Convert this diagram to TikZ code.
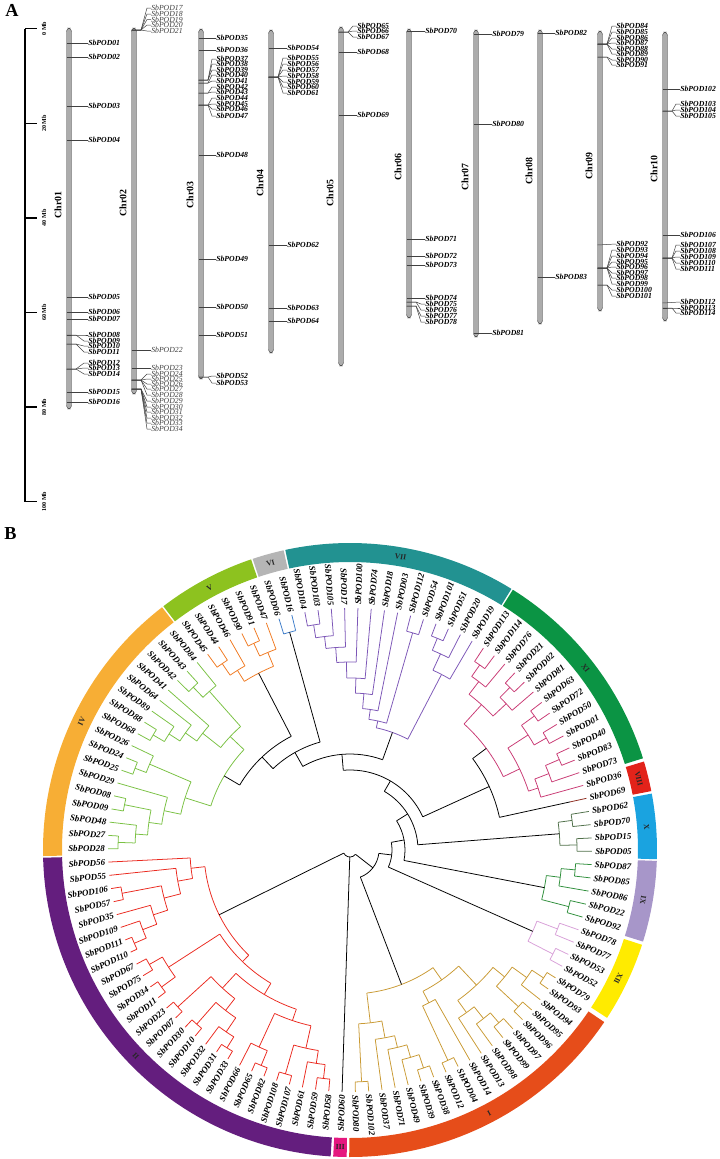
\documentclass[tikz,border=0pt]{standalone}
\usepackage{fontspec}
\setmainfont{Liberation Serif}

% branch and ring colours
\definecolor{ivring}{HTML}{F7AE35}
\definecolor{ivbr}{HTML}{7AC143}
\definecolor{vring}{HTML}{8DC21F}
\definecolor{vbr}{HTML}{F07A22}
\definecolor{viring}{HTML}{B5B5B5}
\definecolor{vibr}{HTML}{3D7CC9}
\definecolor{viiring}{HTML}{229291}
\definecolor{viibr}{HTML}{7D57B7}
\definecolor{xiring}{HTML}{0B9444}
\definecolor{xibr}{HTML}{C93A74}
\definecolor{viiiring}{HTML}{E2231A}
\definecolor{viiibr}{HTML}{8C2B1F}
\definecolor{xring}{HTML}{1AA3E0}
\definecolor{xbr}{HTML}{50704A}
\definecolor{ixring}{HTML}{A796C9}
\definecolor{ixbr}{HTML}{2F8F3C}
\definecolor{xiiring}{HTML}{FFEB00}
\definecolor{xiibr}{HTML}{D8A0D8}
\definecolor{iring}{HTML}{E64D1A}
\definecolor{ibr}{HTML}{C99A34}
\definecolor{iiiring}{HTML}{E5177F}
\definecolor{iiring}{HTML}{641E7E}
\definecolor{iibr}{HTML}{EA2A20}

% gene marks on the chromosome map
\newcommand{\gone}[6]{\node[#1] (g#6) at (#4,#5) {SbPOD#6};
  \draw[gline] (#2-2.5,#3) -- (g#6.west);}
\newcommand{\gfan}[6]{\node[#1] (g#6) at (#4,#5) {SbPOD#6};
  \draw[gline] (#2-2.5,#3) -- (#2+7,#3) -- ([xshift=-0.1cm]g#6.west) -- (g#6.west);}

% circular tree: angle of a leaf slot, radial branch, arc, node
\newcommand{\tang}[1]{((#1)*3.15789-0.3)}
\newcommand{\tbr}[4]{\draw[br,#1] ({\tang{#2}}:#3) -- ({\tang{#2}}:#4);}
\newcommand{\tarc}[4]{\draw[br,#1] ({\tang{#2}}:#4) arc[start angle={\tang{#2}}, end angle={\tang{#3}}, radius=#4];}
\newcommand{\tnd}[6]{\tarc{#1}{#2}{#4}{#6}\tbr{#1}{#2}{#6}{#3}\tbr{#1}{#4}{#6}{#5}}
\newcommand{\tring}[5]{%
  \fill[#3] ({\tang{#1}}:288) arc[start angle={\tang{#1}}, end angle={\tang{#2}}, radius=288]
    -- ({\tang{#2}}:307) arc[start angle={\tang{#2}}, end angle={\tang{#1}}, radius=307] -- cycle;
  \pgfmathsetmacro\tmid{\tang{#1}/2+\tang{#2}/2}
  \pgfmathsetmacro\trot{\tmid-90}
  \node[rlab, rotate=\trot] (#5) at (\tmid:297.5) {#4};}

\tikzset{
  glab/.style={font=\fontsize{5.5}{6}\selectfont\bfseries\itshape, anchor=west, inner sep=0pt},
  glabn/.style={font=\fontsize{5.5}{6}\selectfont\itshape, anchor=west, inner sep=0pt, text=black!75},
  gline/.style={draw=black!75, line width=0.35pt},
  chrom/.style={fill=gray!65, draw=gray!55!black, line width=0.3pt, rounded corners=2.4},
  chrlab/.style={font=\fontsize{7}{8}\selectfont\bfseries, rotate=90, inner sep=0pt},
  mblab/.style={font=\fontsize{4.3}{5}\selectfont\bfseries, rotate=90, inner sep=0pt},
  tlab/.style={font=\fontsize{6.3}{7}\selectfont\bfseries\itshape, inner sep=0pt},
  rlab/.style={font=\fontsize{5.5}{6}\selectfont\bfseries, inner sep=0pt, text=black!85},
  br/.style={line width=0.55pt},
  panel/.style={font=\fontsize{13}{14}\selectfont\bfseries, anchor=north west, inner sep=0pt}
}

\begin{document}
\begin{tikzpicture}[x=0.025cm, y=-0.025cm]
  \useasboundingbox (0,0) rectangle (720,1159);
  \node[panel] (pa) at (5,4) {A};
  \node[panel] (pb) at (4,527) {B};

  % scale bar
  \draw[line width=1.1pt] (25,28.7) -- (25,501.7);
  \foreach \k in {0,...,5}{
    \pgfmathtruncatemacro\mb{\k*20}
    \draw[line width=1.1pt] (25,28.7+94.6*\k) -- (37,28.7+94.6*\k);
    \node[mblab] (m\k) at (44,28.7+94.6*\k) {\mb{} Mb};
  }

  % chromosomes
  \foreach \c/\x/\t/\b/\ly in {01/69/28/409/205, 02/134/28/394/203, 03/201/29/379/195,
      04/271/30/353/183, 05/341/27/366/193, 06/409/29/318/167, 07/476/30/337/177,
      08/540/30/324/171, 09/600/31/311/166, 10/665/32/321/169}{
    \draw[chrom] (\x-2.5,\t) rectangle (\x+2.5,\b);
    \node[chrlab] (c\c) at (\x-11,\ly) {Chr\c};
  }

  % Chr01
  \gone{glab}{69}{43}{88}{43}{01}
  \gone{glab}{69}{57}{88}{57}{02}
  \gone{glab}{69}{106}{88}{106}{03}
  \gone{glab}{69}{140}{88}{140}{04}
  \gone{glab}{69}{297}{88}{297}{05}
  \gone{glab}{69}{312}{88}{312}{06}
  \gone{glab}{69}{319}{88}{319}{07}
  \gfan{glab}{69}{335}{88}{335}{08}
  \gfan{glab}{69}{335}{88}{341}{09}
  \gfan{glab}{69}{344}{88}{346}{10}
  \gfan{glab}{69}{344}{88}{352}{11}
  \gfan{glab}{69}{369}{88}{363}{12}
  \gfan{glab}{69}{369}{88}{368}{13}
  \gfan{glab}{69}{369}{88}{374}{14}
  \gone{glab}{69}{392}{88}{392}{15}
  \gone{glab}{69}{402}{88}{402}{16}
  % Chr02
  \gfan{glabn}{134}{30}{151}{8}{17}
  \gfan{glabn}{134}{30}{151}{14}{18}
  \gfan{glabn}{134}{30}{151}{19.5}{19}
  \gfan{glabn}{134}{30}{151}{25}{20}
  \gfan{glabn}{134}{30}{151}{31}{21}
  \gone{glabn}{134}{350}{151}{350}{22}
  \gone{glabn}{134}{368}{151}{368}{23}
  \gfan{glabn}{134}{380}{151}{374}{24}
  \gfan{glabn}{134}{380}{151}{379}{25}
  \gfan{glabn}{134}{380}{151}{384}{26}
  \gfan{glabn}{134}{380}{151}{389}{27}
  \gfan{glabn}{134}{380}{151}{395}{28}
  \gfan{glabn}{134}{389}{151}{401}{29}
  \gfan{glabn}{134}{389}{151}{407}{30}
  \gfan{glabn}{134}{389}{151}{412}{31}
  \gfan{glabn}{134}{389}{151}{418}{32}
  \gfan{glabn}{134}{389}{151}{423}{33}
  \gfan{glabn}{134}{389}{151}{429}{34}
  % Chr03
  \gone{glab}{201}{38}{216}{38}{35}
  \gone{glab}{201}{50}{216}{50}{36}
  \gfan{glab}{201}{80}{216}{59}{37}
  \gfan{glab}{201}{80}{216}{64}{38}
  \gfan{glab}{201}{80}{216}{70}{39}
  \gfan{glab}{201}{83}{216}{75}{40}
  \gfan{glab}{201}{83}{216}{81}{41}
  \gfan{glab}{201}{93}{216}{87}{42}
  \gfan{glab}{201}{93}{216}{92}{43}
  \gfan{glab}{201}{105}{216}{98}{44}
  \gfan{glab}{201}{105}{216}{104}{45}
  \gfan{glab}{201}{105}{216}{109}{46}
  \gfan{glab}{201}{105}{216}{116}{47}
  \gone{glab}{201}{155}{216}{155}{48}
  \gone{glab}{201}{259}{216}{259}{49}
  \gone{glab}{201}{307}{216}{307}{50}
  \gone{glab}{201}{335}{216}{335}{51}
  \gfan{glab}{201}{377}{216}{376}{52}
  \gfan{glab}{201}{377}{216}{383}{53}
  % Chr04
  \gone{glab}{271}{48}{287}{48}{54}
  \gfan{glab}{271}{77}{287}{58}{55}
  \gfan{glab}{271}{77}{287}{64}{56}
  \gfan{glab}{271}{77}{287}{70}{57}
  \gfan{glab}{271}{77}{287}{76}{58}
  \gfan{glab}{271}{77}{287}{82}{59}
  \gfan{glab}{271}{77}{287}{87}{60}
  \gfan{glab}{271}{77}{287}{93}{61}
  \gone{glab}{271}{245}{287}{245}{62}
  \gone{glab}{271}{308}{287}{308}{63}
  \gone{glab}{271}{321}{287}{321}{64}
  % Chr05
  \gfan{glab}{341}{32}{357}{26}{65}
  \gfan{glab}{341}{32}{357}{31}{66}
  \gfan{glab}{341}{32}{357}{37}{67}
  \gone{glab}{341}{52}{357}{52}{68}
  \gone{glab}{341}{115}{357}{115}{69}
  % Chr06
  \gone{glab}{409}{31}{425}{31}{70}
  \gone{glab}{409}{239}{425}{239}{71}
  \gone{glab}{409}{256}{425}{256}{72}
  \gone{glab}{409}{265}{425}{265}{73}
  \gone{glab}{409}{298}{425}{298}{74}
  \gfan{glab}{409}{302}{425}{304}{75}
  \gfan{glab}{409}{302}{425}{310}{76}
  \gfan{glab}{409}{306}{425}{316}{77}
  \gfan{glab}{409}{306}{425}{322}{78}
  % Chr07
  \gone{glab}{476}{34}{492}{34}{79}
  \gone{glab}{476}{124}{492}{124}{80}
  \gone{glab}{476}{333}{492}{333}{81}
  % Chr08
  \gone{glab}{540}{33}{555}{33}{82}
  \gone{glab}{540}{277}{555}{277}{83}
  % Chr09
  \gfan{glab}{600}{44}{616}{26}{84}
  \gfan{glab}{600}{44}{616}{32}{85}
  \gfan{glab}{600}{44}{616}{38}{86}
  \gfan{glab}{600}{44}{616}{43}{87}
  \gfan{glab}{600}{44}{616}{49}{88}
  \gfan{glab}{600}{44}{616}{54}{89}
  \gfan{glab}{600}{57}{616}{60}{90}
  \gfan{glab}{600}{57}{616}{65}{91}
  \gone{glab}{600}{245}{616}{244}{92}
  \gfan{glab}{600}{268}{616}{250}{93}
  \gfan{glab}{600}{268}{616}{256}{94}
  \gfan{glab}{600}{268}{616}{262}{95}
  \gfan{glab}{600}{268}{616}{267}{96}
  \gfan{glab}{600}{268}{616}{273}{97}
  \gfan{glab}{600}{268}{616}{278}{98}
  \gfan{glab}{600}{268}{616}{284}{99}
  \gfan{glab}{600}{285}{616}{290}{100}
  \gfan{glab}{600}{285}{616}{296}{101}
  % Chr10
  \gone{glab}{665}{89}{680}{89}{102}
  \gfan{glab}{665}{111}{680}{104}{103}
  \gfan{glab}{665}{111}{680}{110}{104}
  \gfan{glab}{665}{111}{680}{116}{105}
  \gone{glab}{665}{235}{680}{235}{106}
  \gfan{glab}{665}{258}{680}{245}{107}
  \gfan{glab}{665}{258}{680}{251}{108}
  \gfan{glab}{665}{258}{680}{257}{109}
  \gfan{glab}{665}{258}{680}{263}{110}
  \gfan{glab}{665}{258}{680}{269}{111}
  \gone{glab}{665}{303}{680}{302}{112}
  \gfan{glab}{665}{308}{680}{308}{113}
  \gfan{glab}{665}{308}{680}{313}{114}

  % ---- circular tree ----
  \begin{scope}[shift={(350,850)}, yscale=-1]
    % clade rings
    \tring{-0.45}{3.45}{xring}{X}{rX}
    \tring{3.6}{5.4}{viiiring}{VIII}{rVIII}
    \tring{5.6}{18.45}{xiring}{XI}{rXI}
    \tring{18.55}{32.45}{viiring}{VII}{rVII}
    \tring{32.55}{34.45}{viring}{VI}{rVI}
    \tring{34.55}{40.45}{vring}{V}{rV}
    \tring{40.55}{57.45}{ivring}{IV}{rIV}
    \tring{57.55}{84.45}{iiring}{II}{rII}
    \tring{84.6}{85.4}{iiiring}{III}{rIII}
    \tring{85.55}{103.3}{iring}{I}{rI}
    \tring{103.6}{108.4}{xiiring}{XII}{rXII}
    \tring{108.6}{113.45}{ixring}{IX}{rIX}

    % leaf labels
    \foreach \i/\n in {0/05,1/15,2/70,3/62,4/69,5/36,6/73,7/83,8/40,9/01,10/50,11/72,12/63,
        13/81,14/02,15/21,16/76,17/114,18/113,19/19,20/20,21/51,22/101,23/54,24/112,25/03,
        26/18,27/74,28/100,29/17,30/105,31/103,32/104,33/16,34/06,35/47,36/91,37/90,38/46,
        39/44,40/45,41/84,42/43,43/42,44/41,45/64,46/89,47/88,48/68,49/26,50/24,51/25,52/29,
        53/08,54/09,55/48,56/27,57/28,58/56,59/55,60/106,61/57,62/35,63/109,64/111,65/110,
        66/67,67/75,68/34,69/11,70/23,71/07,72/30,73/10,74/32,75/31,76/33,77/66,78/65,79/82,
        80/108,81/107,82/61,83/59,84/58,85/60,86/80,87/102,88/37,89/71,90/49,91/39,92/38,
        93/12,94/04,95/14,96/13,97/98,98/99,99/97,100/96,101/95,102/94,103/93,104/79,105/52,
        106/53,107/77,108/78,109/92,110/22,111/86,112/85,113/87}{
      \pgfmathsetmacro\tth{\i*3.15789-0.3}
      \pgfmathtruncatemacro\tside{cos(\tth)>=0 ? 1 : 0}
      \ifnum\tside=1
        \node[tlab, anchor=west, rotate=\tth] (t\n) at (\tth:245) {SbPOD\n};
      \else
        \pgfmathsetmacro\tthb{\tth+180}
        \node[tlab, anchor=east, rotate=\tthb] (t\n) at (\tth:245) {SbPOD\n};
      \fi
    }

    % X
    \tnd{xbr}{2}{242}{3}{242}{224}
    \tnd{xbr}{0}{242}{1}{242}{227}
    \tnd{xbr}{0.5}{227}{2.5}{224}{210}
    % VIII
    \tbr{viiibr}{4}{225}{242}
    % XI
    \tnd{xibr}{17}{242}{18}{242}{226}
    \tnd{xibr}{16}{242}{17.5}{226}{212}
    \tnd{xibr}{14}{242}{15}{242}{228}
    \tnd{xibr}{13}{242}{14.5}{228}{214}
    \tnd{xibr}{13.75}{214}{16.75}{212}{196}
    \tnd{xibr}{11}{242}{12}{242}{228}
    \tnd{xibr}{9}{242}{10}{242}{226}
    \tnd{xibr}{9.5}{226}{11.5}{228}{212}
    \tnd{xibr}{7}{242}{8}{242}{228}
    \tnd{xibr}{6}{242}{7.5}{228}{213}
    \tnd{xibr}{5}{242}{6.75}{213}{198}
    \tnd{xibr}{5.875}{198}{10.5}{212}{188}
    \tnd{xibr}{8.1875}{188}{15.25}{196}{170}
    % VII
    \tnd{viibr}{21}{242}{22}{242}{229}
    \tnd{viibr}{20}{242}{21.5}{229}{216}
    \tnd{viibr}{19}{242}{20.75}{216}{198}
    \tnd{viibr}{23}{242}{24}{242}{226}
    \tnd{viibr}{31}{242}{32}{242}{228}
    \tnd{viibr}{30}{242}{31.5}{228}{215}
    \tnd{viibr}{29}{242}{30.75}{215}{203}
    \tnd{viibr}{28}{242}{29.875}{203}{188}
    \tnd{viibr}{27}{242}{28.9375}{188}{172}
    \tnd{viibr}{26}{242}{27.969}{172}{157}
    \tnd{viibr}{25}{242}{26.984}{157}{142}
    \tnd{viibr}{23.5}{226}{25.992}{142}{132}
    \tnd{viibr}{19.875}{198}{24.746}{132}{125}
    % VI
    \tnd{vibr}{33}{242}{34}{242}{226}
    % V
    \tnd{vbr}{36}{242}{37}{242}{228}
    \tnd{vbr}{35}{242}{36.5}{228}{214}
    \tnd{vbr}{39}{242}{40}{242}{226}
    \tnd{vbr}{38}{242}{39.5}{226}{212}
    \tnd{vbr}{35.75}{214}{38.75}{212}{199}
    % IV
    \tnd{ivbr}{42}{242}{43}{242}{226}
    \tnd{ivbr}{41}{242}{42.5}{226}{212}
    \tnd{ivbr}{47}{242}{48}{242}{228}
    \tnd{ivbr}{46}{242}{47.5}{228}{215}
    \tnd{ivbr}{45}{242}{46.75}{215}{202}
    \tnd{ivbr}{44}{242}{45.875}{202}{188}
    \tnd{ivbr}{41.75}{212}{44.9375}{188}{165}
    \tnd{ivbr}{50}{242}{51}{242}{230}
    \tnd{ivbr}{49}{242}{50.5}{230}{218}
    \tnd{ivbr}{53}{242}{54}{242}{230}
    \tnd{ivbr}{56}{242}{57}{242}{232}
    \tnd{ivbr}{55}{242}{56.5}{232}{215}
    \tnd{ivbr}{53.5}{230}{55.75}{215}{203}
    \tnd{ivbr}{52}{242}{54.625}{203}{190}
    \tnd{ivbr}{49.75}{218}{53.3125}{190}{173}
    \tnd{ivbr}{43.34}{165}{51.53}{173}{146}
    % IX
    \tnd{ixbr}{-5}{242}{-4}{242}{226}
    \tnd{ixbr}{-2}{242}{-1}{242}{226}
    \tnd{ixbr}{-3}{242}{-1.5}{226}{212}
    \tnd{ixbr}{-4.5}{226}{-2.25}{212}{198}
    % XII
    \tnd{xiibr}{-9}{242}{-8}{242}{228}
    \tnd{xiibr}{-7}{242}{-6}{242}{222}
    \tnd{xiibr}{-8.5}{228}{-6.5}{222}{200}
    % I
    \tnd{ibr}{86}{242}{87}{242}{232}
    \tnd{ibr}{91}{242}{92}{242}{230}
    \tnd{ibr}{90}{242}{91.5}{230}{216}
    \tnd{ibr}{89}{242}{90.75}{216}{203}
    \tnd{ibr}{88}{242}{89.875}{203}{191}
    \tnd{ibr}{86.5}{232}{88.9375}{191}{174}
    \tnd{ibr}{93}{242}{94}{242}{232}
    \tnd{ibr}{93.5}{232}{95}{242}{172}
    \tnd{ibr}{98}{242}{99}{242}{228}
    \tnd{ibr}{97}{242}{98.5}{228}{215}
    \tnd{ibr}{96}{242}{97.75}{215}{200}
    \tnd{ibr}{100}{242}{101}{242}{230}
    \tnd{ibr}{103}{242}{104}{242}{232}
    \tnd{ibr}{102}{242}{103.5}{232}{218}
    \tnd{ibr}{100.5}{230}{102.75}{218}{200}
    \tnd{ibr}{96.875}{200}{101.625}{200}{185}
    \tnd{ibr}{94.25}{172}{99.25}{185}{159}
    \tnd{ibr}{87.72}{174}{96.75}{159}{144}
    % II
    \tnd{iibr}{64}{242}{65}{242}{235}
    \tnd{iibr}{63}{242}{64.5}{235}{222}
    \tnd{iibr}{62}{242}{63.75}{222}{207}
    \tnd{iibr}{60}{242}{61}{242}{232}
    \tnd{iibr}{60.5}{232}{62.875}{207}{192}
    \tnd{iibr}{59}{242}{61.6875}{192}{175}
    \tnd{iibr}{58}{242}{60.34}{175}{160}
    \tnd{iibr}{66}{242}{67}{242}{231}
    \tnd{iibr}{68}{242}{69}{242}{233}
    \tnd{iibr}{66.5}{231}{68.5}{233}{216}
    \tnd{iibr}{70}{242}{71}{242}{233}
    \tnd{iibr}{72}{242}{73}{242}{232}
    \tnd{iibr}{75}{242}{76}{242}{233}
    \tnd{iibr}{74}{242}{75.5}{233}{220}
    \tnd{iibr}{72.5}{232}{74.75}{220}{203}
    \tnd{iibr}{70.5}{233}{73.625}{203}{188}
    \tnd{iibr}{78}{242}{79}{242}{233}
    \tnd{iibr}{77}{242}{78.5}{233}{217}
    \tnd{iibr}{80}{242}{81}{242}{233}
    \tnd{iibr}{83}{242}{84}{242}{230}
    \tnd{iibr}{82}{242}{83.5}{230}{216}
    \tnd{iibr}{80.5}{233}{82.75}{216}{203}
    \tnd{iibr}{77.75}{217}{81.625}{203}{180}
    \tnd{iibr}{72.06}{188}{79.69}{180}{168}
    \tnd{iibr}{67.5}{216}{75.875}{168}{155}
    \tnd{iibr}{59.17}{160}{71.69}{155}{146}

    % backbone
    \tnd{black}{37.25}{199}{47.44}{146}{128}
    \tnd{black}{33.5}{226}{42.34}{128}{112}
    \tnd{black}{22.31}{125}{37.92}{112}{96}
    \tnd{black}{4}{225}{11.72}{170}{153}
    \tnd{black}{7.86}{153}{30.12}{96}{80}
    \tnd{black}{1.5}{210}{18.99}{80}{68}
    \tnd{black}{-3.375}{198}{10.24}{68}{55}
    \tnd{black}{-7.5}{200}{3.43}{55}{42}
    \tnd{black}{92.235}{144}{111.965}{42}{29}
    \tarc{black}{65.43}{102.1}{7}
    \tbr{black}{65.43}{7}{146}
    \tbr{black}{85}{7}{242}
    \tbr{black}{102.1}{7}{29}
  \end{scope}
\end{tikzpicture}
\end{document}
